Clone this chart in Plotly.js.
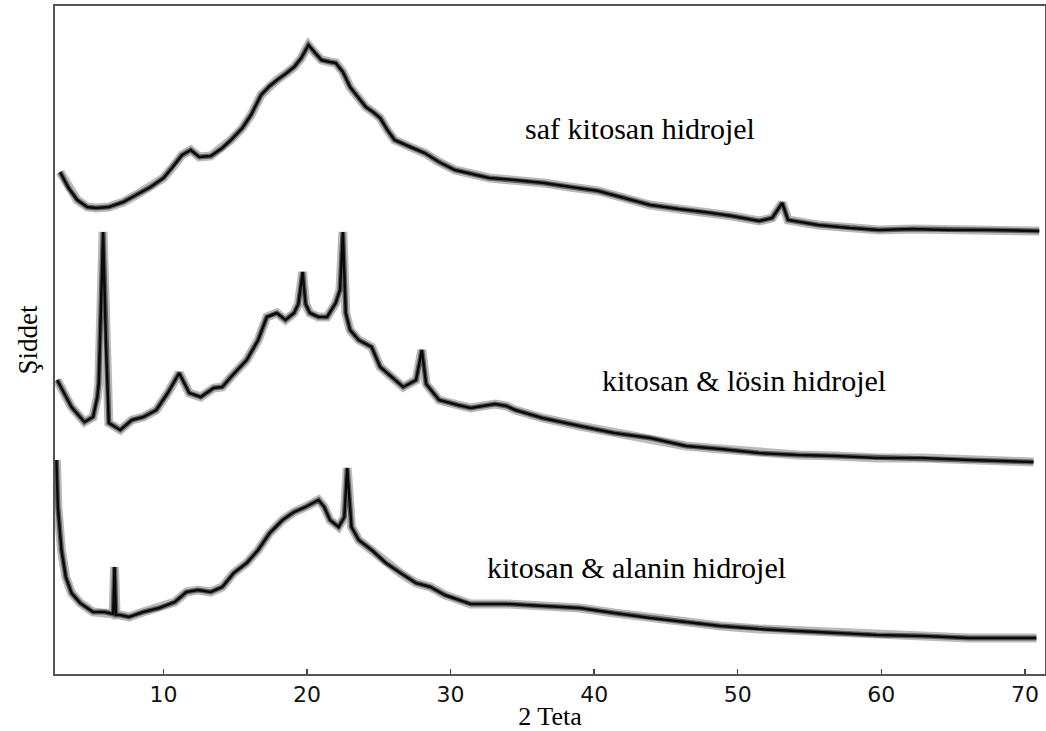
<!DOCTYPE html>
<html>
<head>
<meta charset="utf-8">
<script src="https://cdn.plot.ly/plotly-3.0.1.min.js"></script>
<style>html,body{margin:0;padding:0;background:#fff;}#chart{width:1046px;height:731px;}</style>
</head>
<body>
<div id="chart"></div>
<script>
// 2θ (degrees) and intensity (arbitrary units, curves stacked as in the figure)
const thetaSaf = [2.8,3.4,4.0,4.7,5.3,6.2,7.2,8.1,9.1,10.0,10.6,11.3,11.9,12.5,13.3,14.1,14.7,15.5,16.1,16.8,17.4,17.9,18.5,19.1,19.6,20.1,20.5,21.0,21.6,22.0,22.5,23.0,23.6,24.1,24.6,25.1,25.6,26.1,27.2,28.2,29.2,30.3,32.7,34.5,36.5,38.3,40.3,42.1,43.9,45.9,47.7,49.6,51.5,52.4,53.1,53.5,55.6,57.8,59.8,62.2,64.6,67.4,71.0];
const intensitySaf = [502,486,474,467,466,467,472,479,487,496,506,519,524,517,518,526,534,546,559,579,588,594,600,607,616,629,622,614,612,611,602,587,576,567,562,556,544,534,527,521,512,504,496,494,491,487,483,476,469,465,462,458,453,456,471,454,449,446,444,445,444,444,443];

const thetaLosin = [2.6,3.6,4.5,5.1,5.4,5.5,5.8,6.0,6.2,7.0,7.8,8.6,9.5,10.3,11.1,11.8,12.6,13.5,14.1,14.7,15.8,16.6,17.2,17.9,18.5,19.1,19.4,19.7,19.9,20.2,20.8,21.4,22.0,22.3,22.5,22.7,23.0,23.6,24.5,25.1,25.9,26.7,27.6,28.0,28.3,29.2,30.5,31.4,33.1,33.9,34.5,36.4,39.0,41.4,43.9,46.4,48.8,51.5,54.2,56.9,59.7,62.9,66.1,70.6];
const intensityLosin = [294,267,252,257,277,291,442,330,251,244,254,257,264,281,301,281,277,286,287,297,314,334,357,361,354,361,370,402,370,361,357,357,371,384,442,361,344,334,327,307,297,287,294,324,290,274,269,266,270,268,264,256,248,241,236,228,225,221,219,218,216,216,214,212];

const thetaAlanin = [2.55,2.65,2.9,3.2,3.6,4.2,5.1,5.9,6.5,6.6,6.7,7.0,7.6,8.6,9.7,10.8,11.6,12.4,13.3,14.1,14.9,15.8,16.6,17.4,18.3,19.1,19.9,20.8,21.2,21.6,22.2,22.6,22.8,23.1,23.6,24.5,25.5,26.5,27.6,28.6,29.6,31.4,33.9,36.4,39.0,41.4,43.9,46.4,48.8,51.5,54.2,56.9,59.7,62.9,66.1,70.8];
const intensityAlanin = [214,167,124,97,81,71,62,62,60,107,59,59,57,62,66,72,82,84,82,87,101,111,124,141,154,162,167,174,167,154,147,157,206,147,134,124,111,101,91,87,79,70,70,68,66,61,56,52,48,45,43,41,39,38,36,36];

const seriesNames = ["saf kitosan hidrojel", "kitosan & lösin hidrojel", "kitosan & alanin hidrojel"];
const tickValues = [10, 20, 30, 40, 50, 60, 70];
const tickLabels = ["10", "20", "30", "40", "50", "60", "70"];

const series = [
  {x: thetaSaf, y: intensitySaf, name: seriesNames[0]},
  {x: thetaLosin, y: intensityLosin, name: seriesNames[1]},
  {x: thetaAlanin, y: intensityAlanin, name: seriesNames[2]}
];

const traces = [];
series.forEach(s => {
  traces.push({x: s.x, y: s.y, type: 'scatter', mode: 'lines', name: s.name,
    line: {color: 'rgba(30,30,30,0.30)', width: 9}, hoverinfo: 'skip', showlegend: false});
  traces.push({x: s.x, y: s.y, type: 'scatter', mode: 'lines', name: s.name,
    line: {color: 'rgba(20,20,20,0.55)', width: 5}, hoverinfo: 'skip', showlegend: false});
  traces.push({x: s.x, y: s.y, type: 'scatter', mode: 'lines', name: s.name,
    line: {color: '#0a0a0a', width: 2.5}, showlegend: false});
});

const labelFont = {family: 'Liberation Serif, Times New Roman, serif', size: 30, color: '#000'};
const annotations = [
  {text: seriesNames[0], x: 0.591, y: 0.816, xref: 'paper', yref: 'paper', showarrow: false, font: labelFont, xanchor: 'center', yanchor: 'middle'},
  {text: seriesNames[1], x: 0.696, y: 0.440, xref: 'paper', yref: 'paper', showarrow: false, font: labelFont, xanchor: 'center', yanchor: 'middle'},
  {text: seriesNames[2], x: 0.587, y: 0.159, xref: 'paper', yref: 'paper', showarrow: false, font: labelFont, xanchor: 'center', yanchor: 'middle'}
];

const layout = {
  width: 1046, height: 731,
  margin: {l: 55, r: 1, t: 6, b: 57},
  paper_bgcolor: '#fff', plot_bgcolor: '#fff',
  showlegend: false,
  xaxis: {
    range: [2.45, 71.4],
    tickmode: 'array', tickvals: tickValues, ticktext: tickLabels,
    ticks: 'inside', ticklen: 5, tickwidth: 1.5, tickcolor: '#444',
    tickfont: {family: 'DejaVu Sans, sans-serif', size: 22, color: '#111'},
    showline: true, linecolor: '#555', linewidth: 2, mirror: true,
    showgrid: false, zeroline: false,
    title: {text: '2 Teta', font: {family: 'Liberation Serif, Times New Roman, serif', size: 26, color: '#000'}, standoff: 4}
  },
  yaxis: {
    range: [0, 668],
    showticklabels: false, ticks: '',
    showline: true, linecolor: '#555', linewidth: 2, mirror: true,
    showgrid: false, zeroline: false,
    title: {text: 'Şiddet', font: {family: 'Liberation Serif, Times New Roman, serif', size: 27, color: '#000'}, standoff: 8}
  },
  annotations: annotations
};

Plotly.newPlot('chart', traces, layout, {displayModeBar: false, staticPlot: true});
</script>
</body>
</html>
